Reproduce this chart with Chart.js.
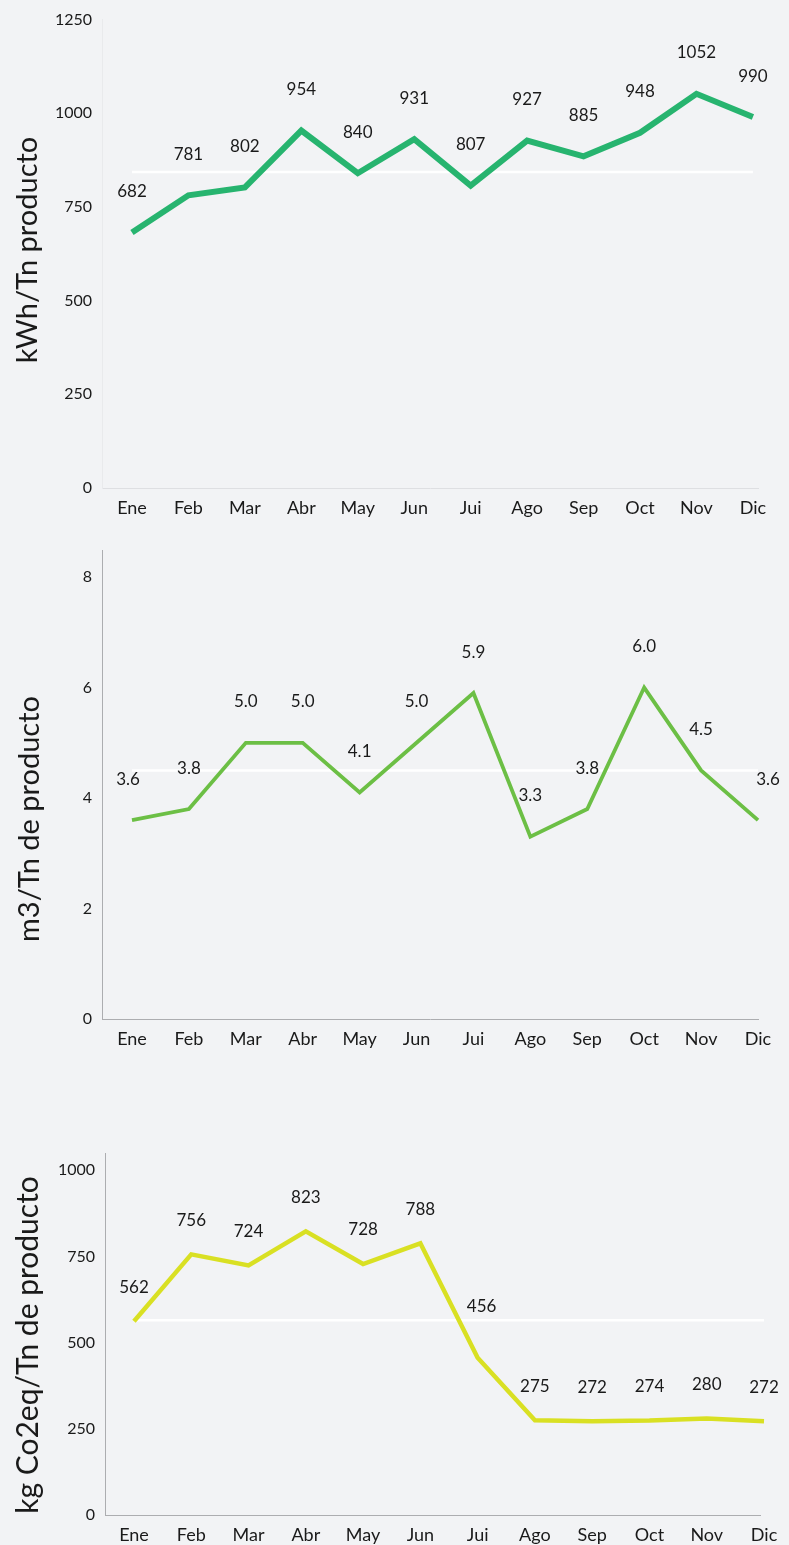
<!DOCTYPE html>
<html><head><meta charset="utf-8">
<script src="https://cdn.jsdelivr.net/npm/chart.js@4"></script>
<style>
html,body{margin:0;padding:0;background:#f2f3f5;}
body{width:789px;height:1545px;position:relative;overflow:hidden;}
canvas{position:absolute;left:0;}
</style></head><body>
<canvas id="c1" width="789" height="530" style="top:0px;width:789px;height:530px"></canvas>
<canvas id="c2" width="789" height="531" style="top:530px;width:789px;height:531px"></canvas>
<canvas id="c3" width="789" height="484" style="top:1061px;width:789px;height:484px"></canvas>
<script>
// ---- data ----
const months = ['Ene','Feb','Mar','Abr','May','Jun','Jui','Ago','Sep','Oct','Nov','Dic'];
const energia = [682,781,802,954,840,931,807,927,885,948,1052,990];
const agua = [3.6,3.8,5.0,5.0,4.1,5.0,5.9,3.3,3.8,6.0,4.5,3.6];
const co2 = [562,756,724,823,728,788,456,275,272,274,280,272];
const energiaRef = 843;
const aguaRef = 4.5;
const co2Ref = 565;
const energiaTicks = [0,250,500,750,1000,1250];
const aguaTicks = [0,2,4,6,8];
const co2Ticks = [0,250,500,750,1000];
const energiaTitle = 'kWh/Tn producto';
const aguaTitle = 'm3/Tn de producto';
const co2Title = 'kg Co2eq/Tn de producto';

const FONT = 'Lato, "Open Sans", sans-serif';
Chart.defaults.font.family = FONT;
Chart.defaults.color = '#1a1a1a';

const valLabels = {
  id: 'valLabels',
  afterDatasetsDraw(chart, args, opts) {
    const ctx = chart.ctx;
    const meta = chart.getDatasetMeta(1);
    const data = chart.data.datasets[1].data;
    const shifts = opts.shifts || {};
    ctx.save();
    ctx.font = '17px ' + FONT;
    ctx.fillStyle = '#1a1a1a';
    ctx.textAlign = 'center';
    ctx.textBaseline = 'middle';
    meta.data.forEach((pt, i) => {
      const v = data[i].y;
      const txt = opts.decimals ? v.toFixed(opts.decimals) : String(v);
      const sh = shifts[i] || [0, 0];
      ctx.fillText(txt, pt.x + sh[0], pt.y - opts.dy + sh[1]);
    });
    ctx.restore();
  }
};
const yTitle = {
  id: 'yTitle',
  afterDraw(chart, args, opts) {
    const ctx = chart.ctx;
    ctx.save();
    ctx.translate(opts.x, opts.y);
    ctx.rotate(-Math.PI / 2);
    ctx.font = opts.size + 'px ' + FONT;
    ctx.fillStyle = '#1a1a1a';
    ctx.textAlign = 'center';
    ctx.textBaseline = 'middle';
    ctx.fillText(opts.text, 0, 0);
    ctx.restore();
  }
};

function makeChart(id, values, refVal, ticks, cfg) {
  const pts = values.map((v, i) => ({x: i, y: v}));
  const ref = values.map((v, i) => ({x: i, y: refVal}));
  return new Chart(document.getElementById(id), {
    type: 'line',
    data: {
      datasets: [
        {data: ref, order: 2, borderColor: '#ffffff', borderWidth: 2.5, pointRadius: 0, tension: 0, clip: false},
        {data: pts, order: 1, borderColor: cfg.color, borderWidth: cfg.lw, pointRadius: 0, tension: 0, clip: false,
         borderJoinStyle: 'miter', borderCapStyle: 'butt'}
      ]
    },
    options: {
      responsive: false,
      animation: false,
      devicePixelRatio: 1,
      layout: {padding: {top: cfg.padTop, right: cfg.padRight, bottom: 0, left: 0}},
      plugins: {
        legend: {display: false},
        tooltip: {enabled: false},
        valLabels: {dy: cfg.dy, decimals: cfg.decimals, shifts: cfg.shifts},
        yTitle: {text: cfg.title, x: cfg.titleX, y: cfg.titleY, size: cfg.titleSize}
      },
      scales: {
        x: {
          type: 'linear', min: cfg.xmin, max: cfg.xmax,
          afterBuildTicks: s => { s.ticks = months.map((m, i) => ({value: i})); },
          afterFit: s => { s.height = cfg.xh; },
          grid: {display: false, drawTicks: false},
          border: {display: true, color: cfg.axisColor, width: 1},
          ticks: {autoSkip: false, maxRotation: 0, padding: 9, font: {size: 18},
                  callback: v => months[v] !== undefined ? months[v] : ''}
        },
        y: {
          min: 0, max: cfg.ymax,
          afterBuildTicks: s => { s.ticks = ticks.map(v => ({value: v})); },
          afterFit: s => { s.width = cfg.yw; },
          grid: {display: false, drawTicks: false},
          border: {display: true, color: cfg.yAxisColor, width: 1},
          ticks: {padding: 10, font: {size: 16}, callback: v => String(v)}
        }
      }
    },
    plugins: [valLabels, yTitle]
  });
}

makeChart('c1', energia, energiaRef, energiaTicks, {
  color: '#27b46f', lw: 6, padTop: 18, padRight: 31, xh: 42, yw: 102,
  xmin: -0.531, xmax: 11.09, ymax: 1250, dy: 41, decimals: 0,
  axisColor: '#dedfe2', yAxisColor: '#e9eaec',
  title: energiaTitle, titleX: 28, titleY: 250, titleSize: 29
});
makeChart('c2', agua, aguaRef, aguaTicks, {
  color: '#6cbf45', lw: 3.8, padTop: 20, padRight: 31, xh: 42, yw: 102,
  xmin: -0.527, xmax: 11, ymax: 8.49, dy: 41, decimals: 1,
  axisColor: '#acadb0', yAxisColor: '#acadb0', shifts: {0: [-4, 0], 11: [10, 0]},
  title: aguaTitle, titleX: 30, titleY: 819 - 530, titleSize: 29
});
makeChart('c3', co2, co2Ref, co2Ticks, {
  color: '#d9e023', lw: 4.5, padTop: 92, padRight: 29, xh: 30, yw: 105,
  xmin: -0.506, xmax: 10.93, ymax: 1050, dy: 34, decimals: 0,
  axisColor: '#acadb0', yAxisColor: '#acadb0', shifts: {6: [4, -17]},
  title: co2Title, titleX: 28, titleY: 1345 - 1061, titleSize: 30
});
</script>
</body></html>
